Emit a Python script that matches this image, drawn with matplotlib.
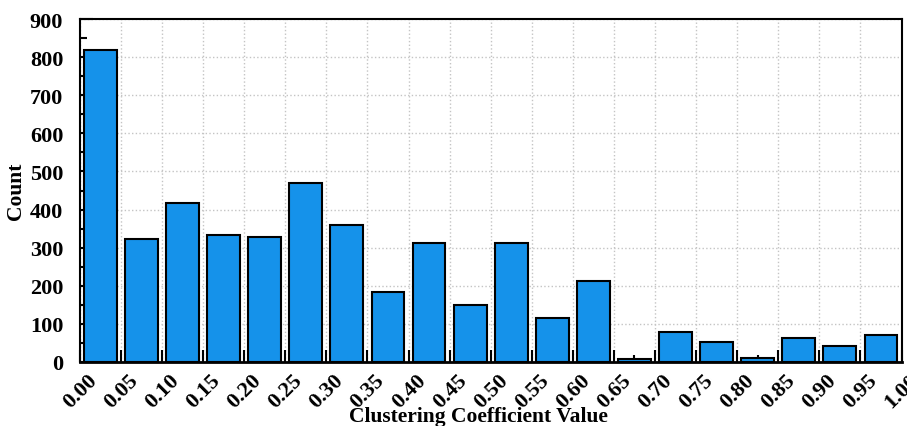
import numpy as np
import matplotlib
matplotlib.use("Agg")
import matplotlib.pyplot as plt
import matplotlib.transforms as mtransforms
from matplotlib.ticker import MultipleLocator

plt.rcParams["font.family"] = ["Liberation Serif", "DejaVu Serif"]
plt.rcParams["font.weight"] = "bold"

# histogram of clustering coefficients, 20 bins of width 0.05
bin_edges = [round(0.05 * i, 2) for i in range(21)]
counts = [820, 323, 418, 332, 327, 469, 359, 184, 313, 150,
          311, 115, 212, 9, 79, 53, 10, 64, 42, 72]
tick_labels = [f"{e:.2f}" for e in bin_edges]

bar_color = "#1592EA"

fig = plt.figure(figsize=(9.07, 4.27), dpi=100)
ax = fig.add_axes([0.088, 0.15, 0.906, 0.803])

centers = [(a + b) / 2 for a, b in zip(bin_edges[:-1], bin_edges[1:])]
ax.bar(centers, counts, width=0.04, color=bar_color, edgecolor="black",
       linewidth=1.5, zorder=3)

ax.set_xlim(0, 1)
ax.set_ylim(0, 900)
ax.set_xticks(bin_edges)
ax.set_xticklabels(tick_labels, rotation=45, ha="right", rotation_mode="anchor")
ax.xaxis.set_minor_locator(MultipleLocator(0.025))
ax.yaxis.set_major_locator(MultipleLocator(100))
ax.yaxis.set_minor_locator(MultipleLocator(50))

ax.grid(True, which="major", linestyle=":", color="#c4c4c4", linewidth=1.0, zorder=0)
ax.set_axisbelow(True)

ax.tick_params(axis="both", which="major", direction="in", length=9, width=1.5,
               labelsize=16, top=False, right=False)
ax.tick_params(axis="both", which="minor", direction="in", length=5, width=1.5,
               top=False, right=False)
ax.tick_params(axis="x", which="major", pad=4)
ax.tick_params(axis="y", which="major", pad=12)

# nudge the slanted x labels so their ends sit just right of each tick
shift = mtransforms.ScaledTranslation(7 / 100, -2 / 100, fig.dpi_scale_trans)
for lab in ax.get_xticklabels():
    lab.set_transform(lab.get_transform() + shift)

for side in ["left", "bottom", "top", "right"]:
    ax.spines[side].set_linewidth(1.5)
ax.spines["bottom"].set_linewidth(2)

for lab in ax.get_xticklabels() + ax.get_yticklabels():
    lab.set_fontweight("bold")

ax.set_xlabel("Clustering Coefficient Value", fontsize=15.5, fontweight="bold")
ax.xaxis.set_label_coords(0.485, -0.128, transform=ax.transAxes)
ax.xaxis.label.set_va("top")
ax.set_ylabel("Count", fontsize=15.5, fontweight="bold")
ax.yaxis.set_label_coords(-0.066, 0.5, transform=ax.transAxes)

fig.savefig("out.png", dpi=100)
